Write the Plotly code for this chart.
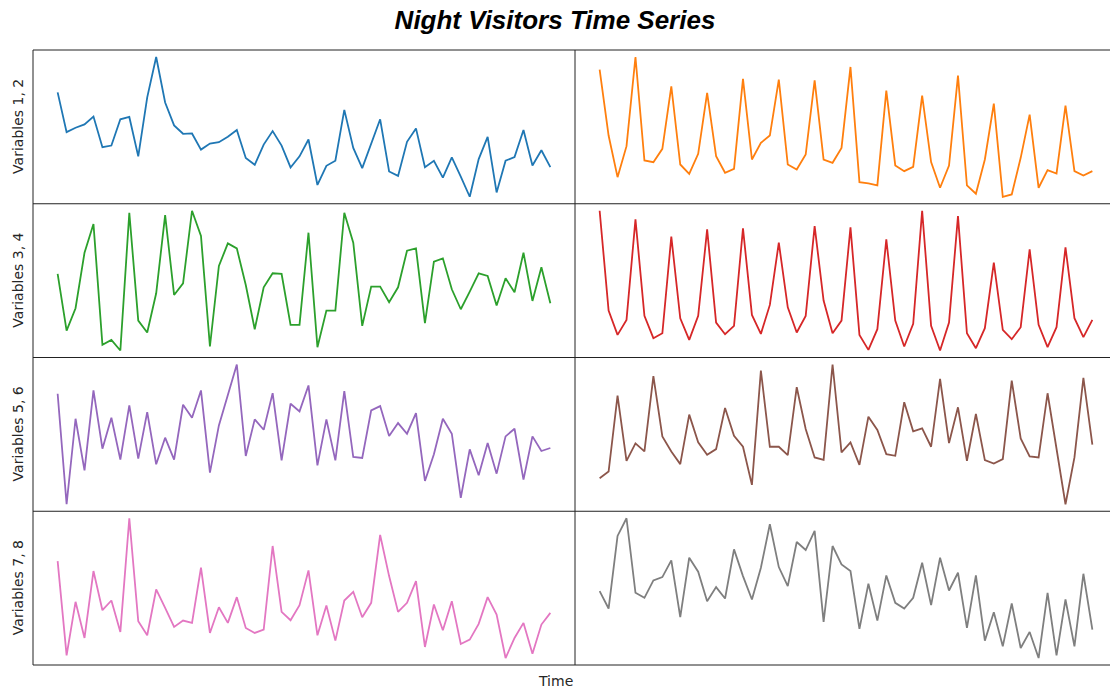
import plotly.graph_objects as go
from plotly.subplots import make_subplots

# Time index (quarters)
time_index = list(range(56))

var1 = [344, 226, 239, 249, 272, 181, 186, 264, 271, 154, 329, 449, 314, 246, 221, 222, 174, 192, 196, 212,
        232, 149, 129, 189, 229, 186, 121, 154, 204, 69, 126, 141, 292, 179, 119, 191, 264, 109, 96, 197,
        237, 122, 141, 91, 151, 94, 34, 146, 212, 47, 141, 152, 232, 127, 172, 122]
var2 = [414, 216, 91, 184, 452, 141, 136, 176, 364, 129, 101, 161, 344, 154, 104, 116, 386, 144, 194, 216,
        384, 129, 114, 159, 382, 144, 134, 179, 422, 76, 72, 66, 351, 126, 109, 122, 336, 136, 59, 126,
        396, 66, 41, 144, 312, 32, 39, 149, 279, 59, 112, 102, 306, 109, 96, 109]
var3 = [262, 92, 159, 326, 412, 49, 64, 32, 446, 122, 86, 204, 439, 199, 234, 452, 376, 44, 286, 354,
        339, 229, 96, 222, 264, 262, 109, 109, 386, 42, 152, 152, 446, 356, 106, 224, 224, 177, 222, 332,
        339, 114, 299, 309, 216, 156, 209, 264, 256, 167, 249, 207, 326, 181, 282, 174]
var4 = [452, 152, 79, 124, 426, 136, 69, 84, 374, 129, 64, 136, 396, 116, 81, 106, 399, 139, 82, 169,
        356, 162, 86, 136, 406, 182, 84, 122, 402, 79, 34, 96, 366, 122, 44, 112, 452, 106, 32, 116,
        436, 84, 39, 99, 296, 94, 66, 102, 336, 109, 42, 102, 342, 129, 72, 124]
var5 = [364, 32, 289, 134, 374, 199, 292, 166, 329, 169, 309, 152, 232, 166, 331, 292, 374, 127, 269, 359,
        452, 177, 287, 256, 366, 164, 334, 311, 389, 149, 287, 164, 372, 174, 171, 314, 327, 237, 276, 244,
        306, 102, 182, 289, 244, 51, 197, 119, 216, 124, 236, 259, 106, 236, 192, 201]
var6 = [112, 132, 359, 164, 216, 192, 417, 237, 192, 154, 302, 219, 182, 199, 322, 239, 206, 92, 434, 206,
        206, 181, 384, 259, 174, 167, 452, 189, 219, 152, 296, 256, 184, 179, 339, 252, 261, 206, 409, 217,
        324, 164, 304, 166, 156, 169, 404, 231, 177, 174, 366, 202, 34, 174, 412, 212]
var7 = [324, 42, 202, 94, 294, 177, 206, 112, 452, 144, 102, 239, 184, 127, 146, 139, 304, 109, 186, 139,
        216, 124, 109, 119, 369, 172, 147, 192, 296, 102, 191, 86, 206, 232, 156, 199, 402, 279, 172, 199,
        264, 67, 194, 117, 204, 76, 89, 136, 216, 164, 34, 94, 139, 47, 134, 169]
var8 = [234, 182, 399, 452, 229, 214, 266, 276, 326, 156, 334, 292, 204, 246, 212, 359, 279, 209, 304, 434,
        306, 249, 381, 357, 414, 142, 369, 314, 294, 121, 256, 146, 281, 199, 182, 214, 319, 192, 334, 236,
        289, 124, 281, 86, 171, 69, 197, 64, 112, 34, 229, 42, 209, 69, 286, 119]

series = [var1, var2, var3, var4, var5, var6, var7, var8]
colors = ["#1f77b4", "#ff7f0e", "#2ca02c", "#d62728",
          "#9467bd", "#8c564b", "#e377c2", "#7f7f7f"]
row_labels = ["Variables 1, 2", "Variables 3, 4", "Variables 5, 6", "Variables 7, 8"]

# Layout geometry: the right column is cropped by the figure edge
W, H = 1110, 692
ML, MT, MB = 33, 50, 27
col_px = 542                       # full width of one panel
plot_w = W - ML                    # 1077 px available
x_mid = col_px / plot_w            # paper fraction of the column boundary

fig = make_subplots(rows=4, cols=2, horizontal_spacing=0, vertical_spacing=0)

n = len(time_index)
xpad = 0.05 * (n - 1)
xr_full = [-xpad, n - 1 + xpad]
right_frac = (plot_w - col_px) / col_px
xr_right = [xr_full[0], xr_full[0] + (xr_full[1] - xr_full[0]) * right_frac]

for k, (vals, col) in enumerate(zip(series, colors)):
    r = k // 2 + 1
    c = k % 2 + 1
    fig.add_trace(go.Scatter(x=time_index, y=vals, mode="lines",
                             line=dict(color=col, width=1.8), showlegend=False,
                             hoverinfo="skip", cliponaxis=True), row=r, col=c)
    lo, hi = min(vals), max(vals)
    pad = 0.05 * (hi - lo)
    fig.update_yaxes(range=[lo - pad, hi + pad], row=r, col=c)
    if c == 1:
        fig.update_xaxes(range=xr_full, domain=[0, x_mid], row=r, col=c)
    else:
        fig.update_xaxes(range=xr_right, domain=[x_mid, 1], row=r, col=c)

fig.update_xaxes(showticklabels=False, ticks="", showgrid=False, zeroline=False, showline=False)
fig.update_yaxes(showticklabels=False, ticks="", showgrid=False, zeroline=False, showline=False)

# Frame lines (panel spines)
frame = dict(color="#222222", width=1)
shapes = [
    dict(type="line", xref="paper", yref="paper", x0=0, x1=0, y0=0, y1=1, line=frame),
    dict(type="line", xref="paper", yref="paper", x0=x_mid, x1=x_mid, y0=0, y1=1, line=frame),
    dict(type="line", xref="paper", yref="paper", x0=0, x1=1, y0=0, y1=0, line=frame),
    dict(type="line", xref="paper", yref="paper", x0=0, x1=1, y0=1, y1=1, line=frame),
]
for i in range(1, 4):
    yb = 1 - i / 4
    shapes.append(dict(type="line", xref="paper", yref="paper", x0=0, x1=1, y0=yb, y1=yb, line=frame))

annotations = []
for i, lab in enumerate(row_labels):
    yc = 1 - (i + 0.5) / 4
    annotations.append(dict(text=lab, xref="paper", yref="paper", x=0, y=yc,
                            xanchor="center", yanchor="middle", xshift=-15,
                            textangle=-90, showarrow=False,
                            font=dict(family="DejaVu Sans", size=14, color="#262626")))
annotations.append(dict(text="Time", xref="paper", yref="paper",
                        x=(555 - ML) / plot_w, y=0, yshift=-16,
                        xanchor="center", yanchor="middle", showarrow=False,
                        font=dict(family="DejaVu Sans", size=14, color="#262626")))

fig.update_layout(
    width=W, height=H,
    margin=dict(l=ML, r=0, t=MT, b=MB),
    paper_bgcolor="white", plot_bgcolor="white",
    title=dict(text="<b><i>Night Visitors Time Series</i></b>", x=0.5, xanchor="center",
               y=1 - 20 / H, yanchor="middle",
               font=dict(family="Liberation Sans", size=26, color="black")),
    annotations=annotations,
    shapes=shapes,
)

fig.write_html("out.html")
